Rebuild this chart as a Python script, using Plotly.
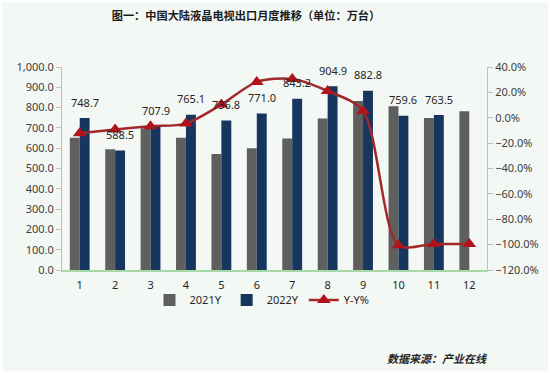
import plotly.graph_objects as go

months = [1, 2, 3, 4, 5, 6, 7, 8, 9, 10, 11, 12]
y2021 = [651, 595, 698, 651, 572, 600, 648, 746, 833, 807, 749, 782]
y2022 = [748.7, 588.5, 707.9, 765.1, 736.8, 771.0, 843.2, 904.9, 882.8, 759.6, 763.5, None]
yoy = [-12.3, -9.3, -6.7, -4.6, 10.4, 28.2, 30.6, 21.1, 5.4, -100.5, -99.5, -99.5]

title = "图一：中国大陆液晶电视出口月度推移（单位：万台）"
source = "数据来源：产业在线"

W, H = 550, 373
L, R, T, B = 62, 63, 67, 103
pw, ph = W - L - R, H - T - B

fig = go.Figure()
fig.add_trace(go.Bar(x=months, y=y2021, name="2021Y", marker_color="#5F5F5F",
                     marker_line_width=0))
fig.add_trace(go.Bar(x=months, y=y2022, name="2022Y", marker_color="#17365D",
                     marker_line_width=0))
fig.add_trace(go.Scatter(x=months, y=yoy, name="Y-Y%", yaxis="y2", mode="lines+markers",
                         line=dict(color="#A3282C", width=2.5, shape="spline", smoothing=0.8),
                         marker=dict(symbol="triangle-up", size=12, color="#B0131B")))

annotations = []
for m, v in zip(months, y2022):
    if v is None:
        continue
    annotations.append(dict(x=m + 0.14, y=v, xref="x", yref="y", text=f"{v:.1f}",
                            showarrow=False, yanchor="middle", yshift=16,
                            font=dict(family="Noto Sans", size=11, color="#262626")))
annotations.append(dict(x=(490 - L) / pw, y=(T + ph - 358) / ph, xref="paper", yref="paper",
                        xanchor="right", yanchor="middle", showarrow=False,
                        text="<b><i>" + source + "</i></b>",
                        font=dict(family="Noto Sans CJK SC", size=11, color="#262626")))

fig.update_layout(
    width=W, height=H,
    margin=dict(l=L, r=R, t=T, b=B),
    paper_bgcolor="#F4F8F4", plot_bgcolor="#F4F8F4",
    barmode="group", bargap=0.44, bargroupgap=0,
    title=dict(text="<b>" + title + "</b>", x=246 / W, xanchor="center", y=1 - 16 / H,
               yanchor="middle", font=dict(family="Noto Sans CJK SC", size=11.2, color="#1a1a1a")),
    font=dict(family="Noto Sans", size=11, color="#404040"),
    xaxis=dict(range=[0.5, 12.5], tickvals=months, ticktext=[str(m) for m in months],
               showgrid=False, zeroline=False, showline=True, linecolor="#A6D9A6", linewidth=1.5,
               ticks="", ticklabelstandoff=4, tickfont=dict(size=11, color="#262626")),
    yaxis=dict(range=[0, 1000], dtick=100, tickformat=",.1f", showgrid=False, zeroline=False,
               showline=True, linecolor="#BFBFBF", linewidth=1, ticks="outside", ticklen=5,
               tickcolor="#BFBFBF", tickfont=dict(size=11, color="#404040")),
    yaxis2=dict(range=[-120, 40], dtick=20, tickformat=".1f", ticksuffix="%", overlaying="y",
                side="right", showgrid=False, zeroline=False, showline=True, linecolor="#BFBFBF",
                linewidth=1, ticks="outside", ticklen=5, tickcolor="#BFBFBF",
                tickfont=dict(size=11, color="#404040")),
    legend=dict(orientation="h", x=(262 - L) / pw, xanchor="center", y=-30 / ph, yanchor="middle",
                bgcolor="rgba(0,0,0,0)", font=dict(size=11, color="#262626"),
                tracegroupgap=0),
    annotations=annotations,
    shapes=[dict(type="rect", xref="paper", yref="paper",
                 x0=(1 - L) / pw, x1=(W - 1 - L) / pw,
                 y0=-(B - 1) / ph, y1=(ph + T - 1) / ph,
                 line=dict(color="#FFFFFF", width=2), fillcolor="rgba(0,0,0,0)", layer="below")],
)

fig.write_html("out.html", config={"displayModeBar": False},
               post_script="document.body.style.margin='0';")
